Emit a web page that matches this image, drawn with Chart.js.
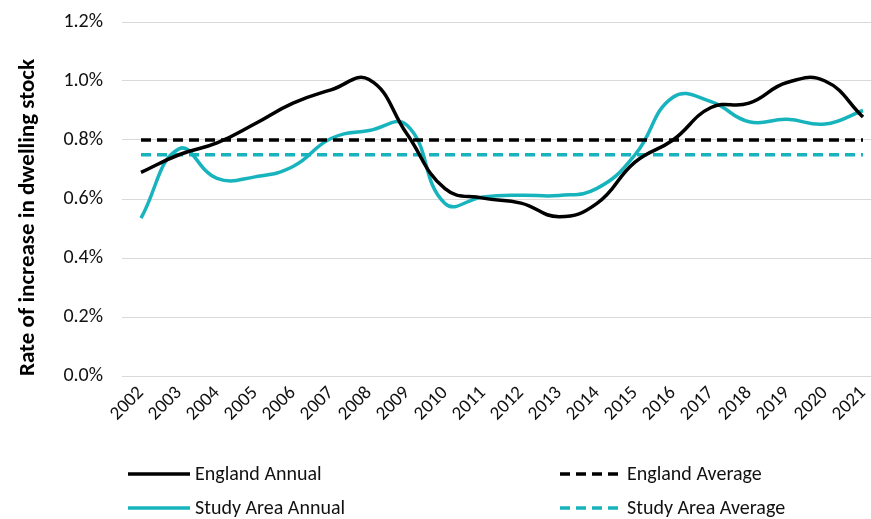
<!DOCTYPE html>
<html>
<head>
<meta charset="utf-8">
<script src="https://cdn.jsdelivr.net/npm/chart.js@4.4.0/dist/chart.umd.min.js"></script>
<style>
  html, body { margin: 0; padding: 0; background: #fff; overflow: hidden; }
  #wrap { width: 882px; height: 519px; }
</style>
</head>
<body>
<div id="wrap"><canvas id="chart" width="882" height="519"></canvas></div>
<script>
var years = ['2002', '2003', '2004', '2005', '2006', '2007', '2008', '2009', '2010', '2011',
             '2012', '2013', '2014', '2015', '2016', '2017', '2018', '2019', '2020', '2021'];

// % per year
var englandAnnual = [0.69, 0.75, 0.79, 0.855, 0.925, 0.97, 1.005, 0.82, 0.635, 0.603,
                     0.586, 0.54, 0.585, 0.725, 0.80, 0.91, 0.925, 0.995, 1.0, 0.878];
var studyAnnual = [0.535, 0.77, 0.67, 0.675, 0.71, 0.805, 0.832, 0.85, 0.585, 0.607,
                   0.613, 0.612, 0.636, 0.75, 0.945, 0.93, 0.862, 0.87, 0.854, 0.9];
var englandAverage = 0.80;
var studyAverage = 0.75;

var yTicks = [0, 0.2, 0.4, 0.6, 0.8, 1.0, 1.2];

var FONT = "'Carlito', 'Liberation Sans', sans-serif";
var teal = '#17B4BE';

function flat(v) {
    return years.map(function () { return v; });
}

// legend drawn by hand, two columns like the original
var legendPlugin = {
    id: 'twoColLegend',
    afterDraw: function (chart) {
        var c = chart.ctx;
        var spots = [[128, 474], [560, 474], [128, 508], [560, 508]];
        chart.data.datasets.forEach(function (ds, i) {
            var p = spots[i];
            c.save();
            c.strokeStyle = ds.borderColor;
            c.lineWidth = 3.5;
            c.setLineDash(ds.borderDash || []);
            c.beginPath();
            c.moveTo(p[0], p[1]);
            c.lineTo(p[0] + 62, p[1]);
            c.stroke();
            c.setLineDash([]);
            c.fillStyle = '#111';
            c.font = '20px ' + FONT;
            c.textBaseline = 'middle';
            c.fillText(ds.label, p[0] + 67, p[1] + 1);
            c.restore();
        });
    }
};

var ctx = document.getElementById('chart').getContext('2d');

var chart = new Chart(ctx, {
    type: 'line',
    data: {
        labels: years,
        datasets: [{
            label: 'England Annual',
            data: englandAnnual,
            borderColor: '#000',
            borderWidth: 3.5,
            tension: 0.45,
            pointRadius: 0
        }, {
            label: 'England Average',
            data: flat(englandAverage),
            borderColor: '#000',
            borderWidth: 3.5,
            borderDash: [10, 6],
            pointRadius: 0
        }, {
            label: 'Study Area Annual',
            data: studyAnnual,
            borderColor: teal,
            borderWidth: 3.5,
            tension: 0.45,
            pointRadius: 0
        }, {
            label: 'Study Area Average',
            data: flat(studyAverage),
            borderColor: teal,
            borderWidth: 3.5,
            borderDash: [10, 6],
            pointRadius: 0
        }]
    },
    options: {
        responsive: false,
        animation: false,
        layout: { padding: { top: 22, left: 0, right: 0, bottom: 0 } },
        plugins: {
            legend: { display: false },
            tooltip: { enabled: false }
        },
        scales: {
            x: {
                offset: true,
                grid: { display: false, drawTicks: false },
                border: { display: false },
                ticks: {
                    minRotation: 45,
                    maxRotation: 45,
                    color: '#111',
                    font: { family: FONT, size: 19 },
                    padding: 6
                },
                afterFit: function (s) {
                    s.height = 143;
                    s.paddingLeft = 0;
                    s.paddingRight = 0;
                }
            },
            y: {
                min: 0,
                max: 1.2,
                afterBuildTicks: function (s) {
                    s.ticks = yTicks.map(function (v) { return { value: v }; });
                },
                grid: { color: '#d9d9d9', lineWidth: 1, drawTicks: false },
                border: { display: false },
                ticks: {
                    color: '#111',
                    font: { family: FONT, size: 20 },
                    padding: 19,
                    callback: function (v) { return v.toFixed(1) + '%'; }
                },
                title: {
                    display: true,
                    align: 'start',
                    text: 'Rate of increase in dwelling stock',
                    color: '#000',
                    font: { family: FONT, size: 23, weight: 'bold' },
                    padding: { top: 14, bottom: 0 }
                },
                afterFit: function (s) {
                    s.width = 122;
                    s.paddingTop = 0;
                    s.paddingBottom = 0;
                }
            }
        }
    },
    plugins: [legendPlugin]
});
</script>
</body>
</html>
